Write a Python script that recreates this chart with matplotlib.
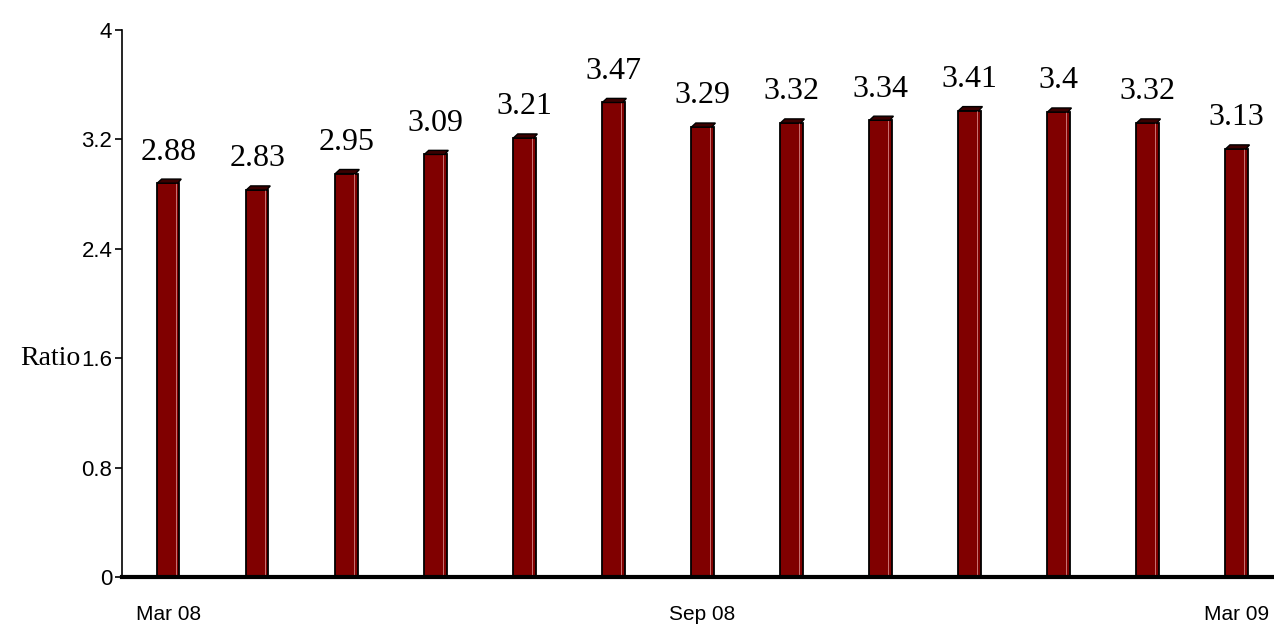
import matplotlib.pyplot as plt
from matplotlib import font_manager

# Data
months = ['Mar 08', 'Apr 08', 'May 08', 'Jun 08', 'Jul 08', 'Aug 08', 'Sep 08',
          'Oct 08', 'Nov 08', 'Dec 08', 'Jan 09', 'Feb 09', 'Mar 09']
ratios = [2.88, 2.83, 2.95, 3.09, 3.21, 3.47, 3.29, 3.32, 3.34, 3.41, 3.4, 3.32, 3.13]
shown_labels = ['Mar 08', 'Sep 08', 'Mar 09']
y_ticks = [0, 0.8, 1.6, 2.4, 3.2, 4]
y_tick_labels = ['0', '0.8', '1.6', '2.4', '3.2', '4']

installed = {f.name for f in font_manager.fontManager.ttflist}
narrow = 'Liberation Sans Narrow' if 'Liberation Sans Narrow' in installed else 'Liberation Sans'
serif = 'Liberation Serif'

fig = plt.figure(figsize=(12.74, 6.28), dpi=100)
ax = fig.add_axes([0.0958, 0.0812, 0.9042, 0.871])

x = list(range(len(months)))
bar_w = 0.25
ax.bar(x, ratios, width=bar_w, color='#800000', edgecolor='black', linewidth=1.3, zorder=2)
# light highlight on right side of each bar
ax.bar([i + bar_w * 0.36 for i in x], ratios, width=bar_w * 0.06, color='#c87070',
       linewidth=0, zorder=3)
# top caps to mimic the 3D look
for i, v in zip(x, ratios):
    cap = 0.03
    ax.fill([i - bar_w / 2, i - bar_w / 2 + 0.05, i + bar_w / 2 + 0.02, i + bar_w / 2 - 0.02],
            [v, v + cap, v + cap, v], color='#3a0000', edgecolor='black', lw=1.0, zorder=4)
    ax.annotate(f'{v:g}', (i, v), xytext=(0, 12), textcoords='offset points',
                ha='center', va='bottom', fontsize=23, family=serif)

ax.set_xlim(-0.52, 12.42)
ax.set_ylim(0, 4)
ax.set_yticks(y_ticks)
ax.set_yticklabels(y_tick_labels, family=narrow, fontsize=16)
ax.set_xticks([months.index(m) for m in shown_labels])
ax.set_xticklabels(shown_labels, family=narrow, fontsize=15)
ax.tick_params(axis='x', length=0, pad=20)
ax.tick_params(axis='y', length=5, width=1.2, pad=2)

ax.spines['top'].set_visible(False)
ax.spines['right'].set_visible(False)
ax.spines['left'].set_linewidth(1.2)
ax.spines['bottom'].set_linewidth(3)
ax.spines['bottom'].set_zorder(5)

ax.set_ylabel('Ratio', rotation=0, family=serif, fontsize=20, va='center', ha='right')
ax.yaxis.set_label_coords(-0.036, 0.4)

plt.savefig('out.png', dpi=100)
plt.close()
